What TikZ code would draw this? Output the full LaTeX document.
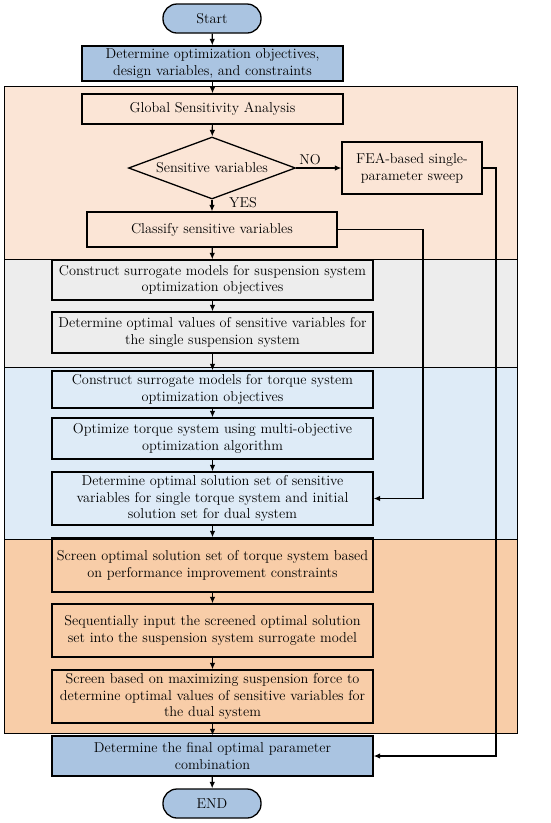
\documentclass[tikz,border=0pt]{standalone}
\usetikzlibrary{shapes.geometric,arrows.meta}
\definecolor{peach}{RGB}{251,229,214}
\definecolor{greyreg}{RGB}{237,237,237}
\definecolor{bluereg}{RGB}{222,235,247}
\definecolor{orangereg}{RGB}{248,205,168}
\definecolor{bluebox}{RGB}{170,196,225}
\begin{document}
\begin{tikzpicture}[x=1pt,y=-1pt,
  every node/.style={font=\fontsize{14.3}{16.8}\selectfont},
  box/.style={draw, line width=1.3pt, align=center, inner sep=0pt, minimum width=321pt},
  term/.style={draw, line width=1.3pt, fill=bluebox, rounded corners=14pt, minimum width=98pt, minimum height=29pt, inner sep=0pt},
  region/.style={draw, line width=0.9pt},
  conn/.style={line width=1.2pt, -{Latex[length=6.5pt,width=5.5pt]}},
  lab/.style={inner sep=0pt}]
\useasboundingbox (0,0) rectangle (550,823);
% regions
\filldraw[region, fill=peach] (4,86) rectangle (517,259);
\filldraw[region, fill=greyreg] (4,259) rectangle (517,367);
\filldraw[region, fill=bluereg] (4,367) rectangle (517,539);
\filldraw[region, fill=orangereg] (4,539) rectangle (517,733);
% nodes
\node[term] (start) at (212,18.5) {Start};
\node[box, fill=bluebox, minimum width=261pt, minimum height=35pt] (obj) at (212.5,63.5) {Determine optimization objectives,\\design variables, and constraints};
\node[box, minimum width=261pt, minimum height=30pt] (gsa) at (212.5,109) {Global Sensitivity Analysis};
\node[diamond, draw, line width=1.3pt, minimum width=167pt, minimum height=62pt, inner sep=0pt] (dia) at (212,168) {};
\node[lab] (diat) at (dia) {Sensitive variables};
\node[box, minimum width=140pt, minimum height=52pt] (fea) at (412,168) {FEA-based single-\\parameter sweep};
\node[box, minimum width=250pt, minimum height=35pt] (cls) at (212,229.5) {Classify sensitive variables};
\node[box, minimum height=40pt] (sur1) at (212.5,280) {Construct surrogate models for suspension system\\optimization objectives};
\node[box, minimum height=41pt] (opt1) at (212.5,332.5) {Determine optimal values of sensitive variables for\\the single suspension system};
\node[box, minimum height=37pt] (sur2) at (212.5,389.5) {Construct surrogate models for torque system\\optimization objectives};
\node[box, minimum height=41pt] (optT) at (212.5,438.5) {Optimize torque system using multi-objective\\optimization algorithm};
\node[box, minimum height=53pt] (sol) at (212.5,498.5) {Determine optimal solution set of sensitive\\variables for single torque system and initial\\solution set for dual system};
\node[box, minimum height=54pt] (scr) at (212.5,565) {Screen optimal solution set of torque system based\\on performance improvement constraints};
\node[box, minimum height=53pt] (seq) at (212.5,630.5) {Sequentially input the screened optimal solution\\set into the suspension system surrogate model};
\node[box, minimum height=53pt] (max) at (212.5,696.5) {Screen based on maximizing suspension force to\\determine optimal values of sensitive variables for\\the dual system};
\node[box, fill=bluebox, minimum height=40pt] (fin) at (212.5,756) {Determine the final optimal parameter\\combination};
\node[term] (end) at (212,803.5) {END};
\node[lab] (no) at (310,160) {NO};
\node[lab] (yes) at (243,203) {YES};
% connectors
\draw[conn] (start) -- (obj);
\draw[conn] (obj) -- (gsa);
\draw[conn] (gsa) -- (dia);
\draw[conn] (dia) -- (fea);
\draw[conn] (dia) -- (cls);
\draw[conn] (cls) -- (sur1);
\draw[conn] (sur1) -- (opt1);
\draw[conn] (opt1) -- (sur2);
\draw[conn] (sur2) -- (optT);
\draw[conn] (optT) -- (sol);
\draw[conn] (sol) -- (scr);
\draw[conn] (scr) -- (seq);
\draw[conn] (seq) -- (max);
\draw[conn] (max) -- (fin);
\draw[conn] (fin) -- (end);
\coordinate (c1) at (423,229.5);
\coordinate (c2) at (496,168);
\draw[conn] (cls.east) -- (c1) |- (sol.east);
\draw[conn] (fea.east) -- (c2) |- (fin.east);
\end{tikzpicture}
\end{document}
